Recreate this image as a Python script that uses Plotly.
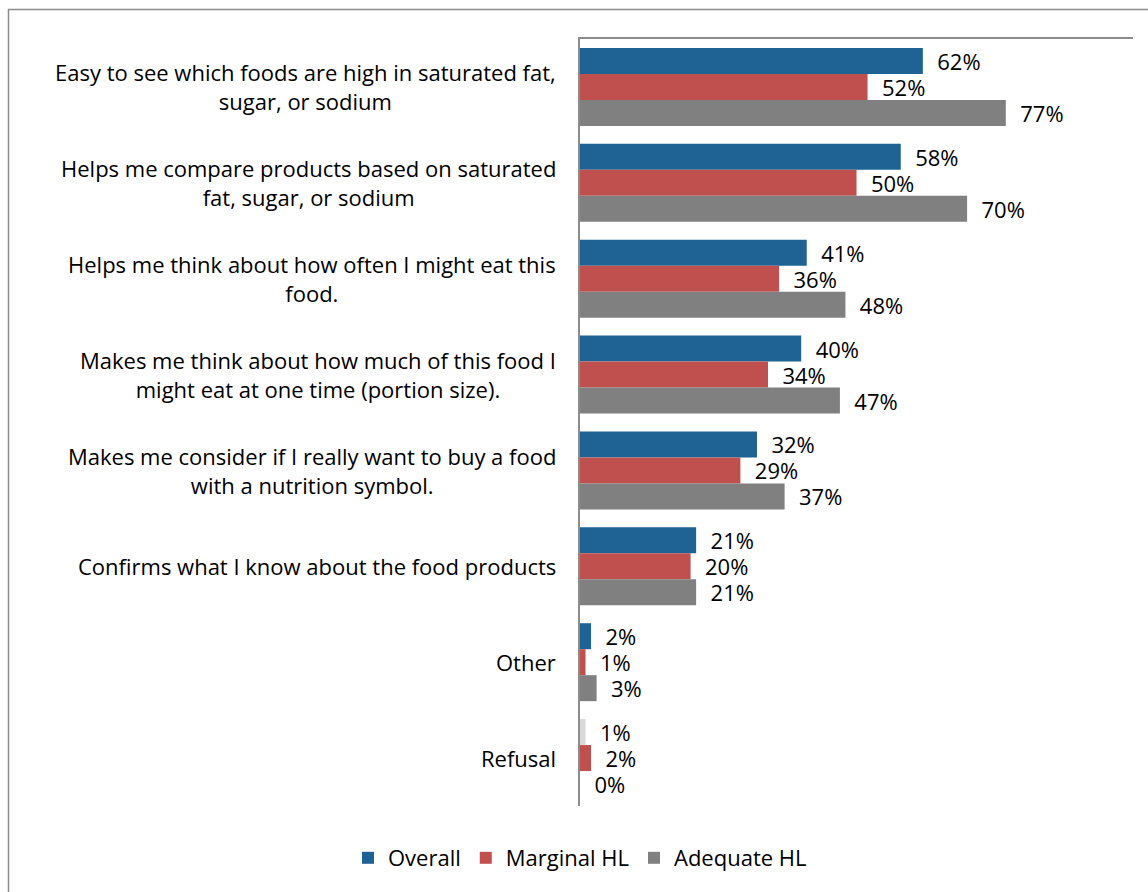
import plotly.graph_objects as go

# Survey responses: reasons the nutrition symbol is helpful
categories = [
    "Easy to see which foods are high in saturated fat,<br>sugar, or sodium",
    "Helps me compare products based on saturated<br>fat, sugar, or sodium",
    "Helps me think about how often I might eat this<br>food.",
    "Makes me think about how much of this food I<br>might eat at one time (portion size).",
    "Makes me consider if I really want to buy a food<br>with a nutrition symbol.",
    "Confirms what I know about the food products",
    "Other",
    "Refusal",
]
overall = [62, 58, 41, 40, 32, 21, 2, 1]
marginal_hl = [52, 50, 36, 34, 29, 20, 1, 2]
adequate_hl = [77, 70, 48, 47, 37, 21, 3, 0]

BLUE = "#1F6294"
RED = "#C0504D"
GRAY = "#808080"
LIGHT = "#D9D9D9"
FONT = "'Open Sans', sans-serif"
FS = 22

W, H = 1148, 892
L, R, T, B = 580, 15, 39, 86
pw, ph = W - L - R, H - T - B


def px(xpix):
    return (xpix - L) / pw


def py(ypix):
    return 1 - (ypix - T) / ph


# the Refusal bar of the Overall series is drawn in a pale tone
overall_colors = [BLUE] * (len(overall) - 1) + [LIGHT]

fig = go.Figure()
series = [
    ("Overall", overall, overall_colors),
    ("Marginal HL", marginal_hl, [RED] * len(marginal_hl)),
    ("Adequate HL", adequate_hl, [GRAY] * len(adequate_hl)),
]
for name, vals, cols in series:
    fig.add_trace(go.Bar(
        name=name, y=categories, x=vals, orientation="h",
        marker=dict(color=cols, line=dict(width=0)),
        text=vals, texttemplate="  %{x}%", textposition="outside",
        constraintext="none",
        textfont=dict(family=FONT, size=FS, color="#000"),
        cliponaxis=False,
    ))

annotations = []
for cat in categories:
    annotations.append(dict(
        x=0, xref="paper", y=cat, yref="y", xanchor="right", yanchor="middle",
        xshift=-22, text=cat, showarrow=False, align="center",
        font=dict(family=FONT, size=FS, color="#000"),
    ))

fig.update_layout(
    width=W, height=H,
    margin=dict(l=L, r=R, t=T, b=B, pad=0),
    paper_bgcolor="white", plot_bgcolor="white",
    barmode="group", bargap=0.187, bargroupgap=0,
    font=dict(family=FONT, size=FS, color="#000"),
    uniformtext=dict(mode=False),
    showlegend=True,
    legend=dict(
        orientation="h", x=px(580), xref="paper", xanchor="center",
        y=py(858), yanchor="middle",
        font=dict(family=FONT, size=FS, color="#000"),
        itemwidth=30, tracegroupgap=0,
    ),
    xaxis=dict(
        range=[0, 100], side="top", showgrid=False, zeroline=False,
        showticklabels=False, ticks="", showline=True,
        linecolor="#8C8C8C", linewidth=1.5,
    ),
    yaxis=dict(
        autorange="reversed", showgrid=False, zeroline=False,
        showticklabels=False, ticks="", showline=True,
        linecolor="#8C8C8C", linewidth=1.5,
    ),
    annotations=annotations,
    shapes=[dict(
        type="rect", xref="paper", yref="paper",
        x0=px(8.5), x1=px(1170), y0=py(920), y1=py(9.5),
        line=dict(color="#8C8C8C", width=1.5), fillcolor="rgba(0,0,0,0)",
        layer="below",
    )],
)

fig.write_html("out.html")
